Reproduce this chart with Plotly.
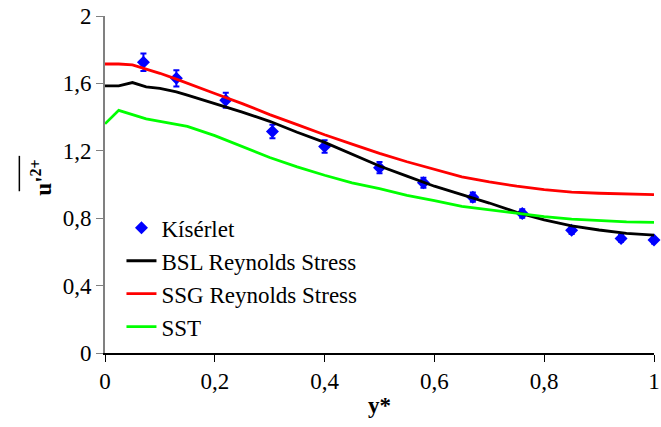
import plotly.graph_objects as go

# Experimental data (Kísérlet)
exp_x = [0.07, 0.13, 0.22, 0.305, 0.40, 0.50, 0.58, 0.67, 0.76, 0.85, 0.94, 1.0]
exp_y = [1.725, 1.63, 1.50, 1.315, 1.225, 1.10, 1.01, 0.925, 0.828, 0.728, 0.68, 0.67]
exp_err = [0.052, 0.048, 0.045, 0.04, 0.037, 0.033, 0.03, 0.028, 0.025, 0.022, 0.02, 0.02]

# Model curves
line_x = [0, 0.025, 0.05, 0.075, 0.1, 0.13, 0.15, 0.2, 0.25, 0.3, 0.35, 0.4, 0.45,
          0.5, 0.55, 0.6, 0.65, 0.7, 0.75, 0.8, 0.85, 0.9, 0.95, 1.0]
bsl_y = [1.585, 1.585, 1.605, 1.58, 1.57, 1.55, 1.53, 1.48, 1.43, 1.375, 1.31, 1.25, 1.18,
         1.11, 1.05, 0.99, 0.94, 0.89, 0.835, 0.79, 0.755, 0.73, 0.71, 0.70]
ssg_y = [1.715, 1.715, 1.71, 1.685, 1.66, 1.625, 1.60, 1.54, 1.48, 1.415, 1.355, 1.295, 1.24,
         1.185, 1.135, 1.09, 1.045, 1.015, 0.99, 0.97, 0.955, 0.948, 0.943, 0.94]
sst_y = [1.36, 1.44, 1.415, 1.39, 1.375, 1.355, 1.345, 1.29, 1.225, 1.16, 1.105, 1.055, 1.01,
         0.975, 0.935, 0.905, 0.87, 0.85, 0.83, 0.81, 0.795, 0.785, 0.778, 0.775]

x_ticks = [0, 0.2, 0.4, 0.6, 0.8, 1]
x_ticklabels = ["0", "0,2", "0,4", "0,6", "0,8", "1"]
y_ticks = [0, 0.4, 0.8, 1.2, 1.6, 2]
y_ticklabels = ["0", "0,4", "0,8", "1,2", "1,6", "2"]

FONT = "Liberation Serif"
FS = 23

fig = go.Figure()
fig.add_trace(go.Scatter(
    x=exp_x, y=exp_y, mode="markers", name="Kísérlet",
    marker=dict(symbol="diamond", size=10, color="#0000FF"),
    error_y=dict(type="data", array=exp_err, color="#0000FF", thickness=2, width=3),
    cliponaxis=False,
))
fig.add_trace(go.Scatter(x=line_x, y=bsl_y, mode="lines", name="BSL Reynolds Stress",
                         line=dict(color="#000000", width=2.8)))
fig.add_trace(go.Scatter(x=line_x, y=ssg_y, mode="lines", name="SSG Reynolds Stress",
                         line=dict(color="#FF0000", width=2.8)))
fig.add_trace(go.Scatter(x=line_x, y=sst_y, mode="lines", name="SST",
                         line=dict(color="#00FF00", width=2.8)))

fig.update_layout(
    width=661, height=427,
    margin=dict(l=105, r=7, t=16, b=74, autoexpand=False),
    paper_bgcolor="white", plot_bgcolor="white",
    font=dict(family=FONT, size=FS, color="black"),
    showlegend=True,
    legend=dict(x=0.03, y=0.435, xanchor="left", yanchor="top",
                bgcolor="rgba(0,0,0,0)", font=dict(family=FONT, size=FS, color="black"),
                tracegroupgap=0),
    xaxis=dict(range=[0, 1], tickmode="array", tickvals=x_ticks, ticktext=x_ticklabels,
               showgrid=False, zeroline=False, ticklabeloverflow="allow", automargin=False,
               showline=True, linecolor="#000000", linewidth=1.5,
               ticks="outside", ticklen=7, tickcolor="#000000",
               tickfont=dict(family=FONT, size=FS, color="black"),
               title=dict(text="<b>y*</b>", standoff=4,
                          font=dict(family=FONT, size=FS, color="black"))),
    yaxis=dict(range=[0, 2], tickmode="array", tickvals=y_ticks, ticktext=y_ticklabels,
               showgrid=False, zeroline=False, automargin=False,
               showline=True, linecolor="#808080", linewidth=2,
               ticks="outside", ticklen=7, tickcolor="#808080",
               tickfont=dict(family=FONT, size=FS, color="black")),
)

# y-axis title with overline
fig.add_annotation(xref="paper", yref="paper", x=-0.145, y=0.52,
                   text="<b>u'<sup>2+</sup></b>", textangle=-90, showarrow=False,
                   font=dict(family=FONT, size=FS, color="black"))
fig.add_shape(type="line", xref="paper", yref="paper",
              x0=-0.156, x1=-0.156, y0=0.48, y1=0.585,
              line=dict(color="black", width=1.5))

fig.write_html("out.html")
